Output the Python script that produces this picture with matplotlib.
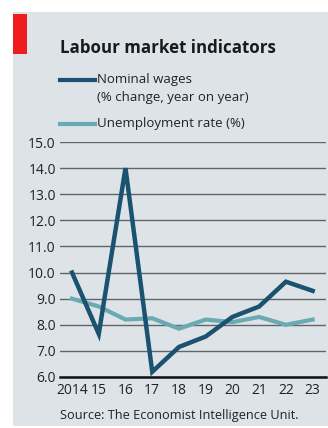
import matplotlib
matplotlib.use("Agg")
import matplotlib.pyplot as plt
from matplotlib.patches import Rectangle
from matplotlib.lines import Line2D

years = [2014, 2015, 2016, 2017, 2018, 2019, 2020, 2021, 2022, 2023]
year_labels = ["2014", "15", "16", "17", "18", "19", "20", "21", "22", "23"]
nominal_wages = [10.0, 7.65, 14.0, 6.2, 7.15, 7.55, 8.3, 8.7, 9.65, 9.3]
unemployment = [9.0, 8.7, 8.2, 8.25, 7.85, 8.2, 8.1, 8.3, 8.0, 8.2]
y_ticks = [6, 7, 8, 9, 10, 11, 12, 13, 14, 15]

bg = "#dde3e7"
wage_col = "#1a5270"
unemp_col = "#6aaab1"
W, H = 328, 428

plt.rcParams["font.family"] = ["Open Sans", "DejaVu Sans"]

fig = plt.figure(figsize=(W / 100, H / 100), dpi=100)
fig.patch.set_facecolor("white")

# grey panel and red tag
fig.patches.append(Rectangle((13 / W, 2 / H), 1, (426 - 12) / H, transform=fig.transFigure,
                             facecolor=bg, edgecolor="none", zorder=0))
fig.patches.append(Rectangle((13 / W, (H - 54) / H), 14 / W, 40 / H, transform=fig.transFigure,
                             facecolor="#ee1c1c", edgecolor="none", zorder=1))

ax = fig.add_axes([60 / W, (H - 377) / H, (326 - 60) / W, (377 - 142) / H])
ax.set_zorder(3)
ax.set_facecolor("none")
ax.plot(years, nominal_wages, color=wage_col, lw=3.2, solid_joinstyle="miter", zorder=3)
ax.plot(years, unemployment, color=unemp_col, lw=3.0, solid_joinstyle="miter", zorder=2)

ax.set_xlim(2013.55, 2023.5)
ax.set_ylim(6, 15)
ax.set_yticks(y_ticks)
ax.set_yticklabels([f"{v:.1f}" for v in y_ticks], fontsize=10, color="#222222")
ax.set_xticks(years)
ax.set_xticklabels(year_labels, fontsize=10, color="#222222")
ax.tick_params(length=0, pad=3)
ax.tick_params(axis="x", pad=4)
ax.grid(axis="y", color="#5f666b", lw=1.0)
ax.set_axisbelow(True)
for s in ["top", "right", "left"]:
    ax.spines[s].set_visible(False)
ax.spines["bottom"].set_color("#111111")
ax.spines["bottom"].set_linewidth(1.8)

fig.text(60 / W, (H - 53) / H, "Labour market indicators", fontsize=12.2, fontweight="bold",
         color="#1a1a1a")

# legend
fig.add_artist(Line2D([60 / W, 95 / W], [(H - 80) / H] * 2, color=wage_col, lw=3.0))
fig.text(97 / W, (H - 80) / H, "Nominal wages", fontsize=9.5, va="center", color="#222222")
fig.text(97 / W, (H - 98) / H, "(% change, year on year)", fontsize=9.5, va="center", color="#222222")
fig.add_artist(Line2D([60 / W, 95 / W], [(H - 124) / H] * 2, color=unemp_col, lw=3.0))
fig.text(97 / W, (H - 124) / H, "Unemployment rate (%)", fontsize=9.5, va="center", color="#222222")

fig.text(60 / W, (H - 416) / H, "Source: The Economist Intelligence Unit.", fontsize=9.2,
         va="center", color="#222222")

fig.savefig("out.png", dpi=100, facecolor=fig.get_facecolor())
